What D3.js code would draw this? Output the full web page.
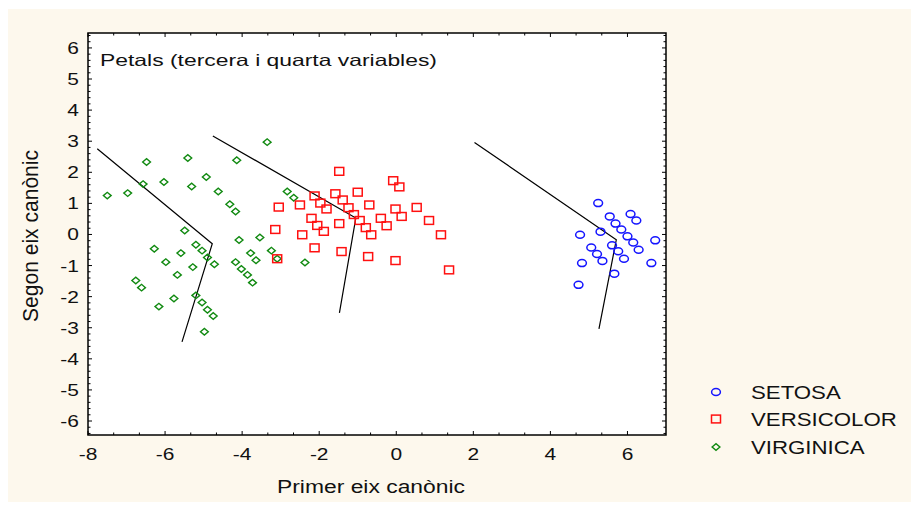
<!DOCTYPE html>
<html><head><meta charset="utf-8">
<script src="https://cdn.jsdelivr.net/npm/d3@7"></script>
<style>body{margin:0;background:#fff}</style>
</head><body>
<svg id="c" width="911" height="505"></svg>
<script>
// ---- data ----
const seriesNames = ["SETOSA", "VERSICOLOR", "VIRGINICA"];
const setosaX = [5.24,5.54,6.08,6.23,5.69,5.84,4.77,5.30,6.00,6.15,6.72,5.60,5.06,5.76,6.29,5.21,5.91,5.35,4.82,6.62,5.66,4.73];
const setosaY = [1.01,0.58,0.66,0.45,0.35,0.16,-0.01,0.09,-0.06,-0.26,-0.19,-0.35,-0.42,-0.54,-0.49,-0.63,-0.78,-0.85,-0.92,-0.92,-1.26,-1.62];
const versicolorX = [-1.48,-0.08,0.08,-2.12,-1.58,-1.00,-1.97,-1.39,-0.70,-3.05,-2.50,-1.81,-1.24,-0.02,0.53,0.14,-1.10,-2.20,-0.95,-0.40,0.85,-3.14,-2.05,-1.48,-0.79,-0.25,-1.88,-2.44,-0.65,1.16,-2.12,-1.42,-0.73,-0.02,-3.09,1.37];
const versicolorY = [2.03,1.73,1.53,1.24,1.31,1.36,1.01,1.11,0.95,0.88,0.95,0.82,0.86,0.82,0.87,0.58,0.64,0.52,0.45,0.52,0.45,0.16,0.29,0.35,0.22,0.28,0.10,-0.01,-0.01,-0.01,-0.43,-0.55,-0.71,-0.84,-0.78,-1.14];
const virginicaX = [-3.35,-6.48,-5.41,-4.14,-4.93,-6.57,-6.03,-5.31,-4.62,-7.50,-6.97,-4.32,-4.17,-5.49,-4.08,-3.54,-6.28,-5.20,-5.04,-5.59,-3.78,-3.24,-4.90,-4.72,-5.98,-4.17,-3.64,-5.28,-4.02,-3.86,-5.68,-3.73,-6.76,-6.61,-5.20,-5.77,-5.04,-6.16,-4.90,-4.75,-4.98,-3.09,-2.83,-2.66,-2.37];
const virginicaY = [2.97,2.33,2.46,2.39,1.85,1.62,1.69,1.54,1.38,1.25,1.33,0.97,0.74,0.13,-0.18,-0.10,-0.46,-0.33,-0.52,-0.60,-0.60,-0.52,-0.74,-0.96,-0.89,-0.89,-0.83,-1.05,-1.11,-1.30,-1.30,-1.55,-1.48,-1.71,-1.96,-2.06,-2.19,-2.32,-2.42,-2.62,-3.13,-0.78,1.38,1.18,-0.90];
// boundary polylines (x, y)
const line1X = [-7.76,-4.775,-5.56], line1Y = [2.755,-0.297,-3.455];
const line2X = [-4.76,-1.05,-1.475], line2Y = [3.17,0.53,-2.525];
const line3X = [2.03,5.71,5.26],     line3Y = [2.96,-0.17,-3.04];
const xTickLabels = [-8,-6,-4,-2,0,2,4,6];
const yTickLabels = [6,5,4,3,2,1,0,-1,-2,-3,-4,-5,-6];
const titleText = "Petals (tercera i quarta variables)";
const xTitle = "Primer eix canònic";
const yTitle = "Segon eix canònic";

// ---- layout ----
const svg = d3.select("#c");
const L = 88, R = 666, T = 33, B = 435;
const x = d3.scaleLinear().domain([-8, 7]).range([L, R]);
const y = d3.scaleLinear().domain([-6.45, 6.48]).range([B, T]);
const FONT = "'Liberation Sans', Arial, sans-serif";
const SX = 1.27;
const colors = {SETOSA: "#1515ff", VERSICOLOR: "#ff1010", VIRGINICA: "#118a11"};

svg.append("rect").attr("x", 8).attr("y", 9).attr("width", 903).attr("height", 493).attr("fill", "#fdf8ed");
svg.append("rect").attr("x", L).attr("y", T).attr("width", R - L).attr("height", B - T).attr("fill", "#fff");

// ticks
const tickG = svg.append("g").attr("stroke", "#000").attr("stroke-width", 1);
const xMinor = d3.range(0, 22).map(i => -8 + i * 2 / 3).filter(v => v < 6.99);
xMinor.forEach((v, i) => {
  const len = (i % 3 === 0) ? 4 : 2.5;
  tickG.append("line").attr("x1", x(v)).attr("x2", x(v)).attr("y1", B).attr("y2", B - len);
  tickG.append("line").attr("x1", x(v)).attr("x2", x(v)).attr("y1", T).attr("y2", T + len);
});
const yMinor = d3.range(-32, 33).map(i => i * 0.2).filter(v => v >= -6.45 && v <= 6.48);
yMinor.forEach(v => {
  const isMaj = Math.abs(v - Math.round(v)) < 1e-6;
  const len = isMaj ? 4 : 2.5;
  tickG.append("line").attr("x1", L).attr("x2", L + len).attr("y1", y(v)).attr("y2", y(v));
  tickG.append("line").attr("x1", R).attr("x2", R - len).attr("y1", y(v)).attr("y2", y(v));
});

// frame
svg.append("rect").attr("x", L).attr("y", T).attr("width", R - L).attr("height", B - T)
  .attr("fill", "none").attr("stroke", "#000").attr("stroke-width", 1.5);

function stext(px, py, txt, size, anchor, sx) {
  return svg.append("text").attr("transform", `translate(${px},${py}) scale(${sx},1)`)
    .attr("font-family", FONT).attr("font-size", size).attr("text-anchor", anchor)
    .attr("fill", "#111").text(txt);
}
xTickLabels.forEach(v => stext(x(v), 460, String(v), 16.5, "middle", SX));
yTickLabels.forEach(v => stext(79, y(v) + 6, String(v), 16.5, "end", SX));

svg.append("text").attr("x", 100).attr("y", 66).attr("font-family", FONT).attr("font-size", 16.5)
  .attr("fill", "#111").attr("textLength", 337).attr("lengthAdjust", "spacingAndGlyphs").text(titleText);
svg.append("text").attr("x", 277).attr("y", 493).attr("font-family", FONT).attr("font-size", 17.5)
  .attr("fill", "#111").attr("textLength", 188).attr("lengthAdjust", "spacingAndGlyphs").text(xTitle);
svg.append("text").attr("transform", `translate(38,236) scale(${SX},1) rotate(-90)`)
  .attr("font-family", FONT).attr("font-size", 17.5).attr("text-anchor", "middle")
  .attr("fill", "#111").attr("textLength", 172).attr("lengthAdjust", "spacingAndGlyphs").text(yTitle);

// boundary lines
const lineGen = d3.line().x(d => x(d[0])).y(d => y(d[1]));
[[line1X, line1Y], [line2X, line2Y], [line3X, line3Y]].forEach(([xs, ys]) => {
  svg.append("path").attr("d", lineGen(d3.zip(xs, ys))).attr("fill", "none")
    .attr("stroke", "#000").attr("stroke-width", 1.2);
});

// markers
function marker(g, kind, cx, cy, col) {
  if (kind === "SETOSA") {
    g.append("ellipse").attr("cx", cx).attr("cy", cy).attr("rx", 4.4).attr("ry", 3.5)
      .attr("fill", "none").attr("stroke", col).attr("stroke-width", 1.5);
  } else if (kind === "VERSICOLOR") {
    g.append("rect").attr("x", cx - 4.5).attr("y", cy - 3.9).attr("width", 9).attr("height", 7.8)
      .attr("fill", "none").attr("stroke", col).attr("stroke-width", 1.5);
  } else {
    g.append("path").attr("d", `M${cx - 3.9},${cy}L${cx},${cy - 3.3}L${cx + 3.9},${cy}L${cx},${cy + 3.3}Z`)
      .attr("fill", "none").attr("stroke", col).attr("stroke-width", 1.4);
  }
}
const ptG = svg.append("g");
[["VIRGINICA", virginicaX, virginicaY], ["VERSICOLOR", versicolorX, versicolorY], ["SETOSA", setosaX, setosaY]]
  .forEach(([name, xs, ys]) => xs.forEach((v, i) => marker(ptG, name, x(v), y(ys[i]), colors[name])));

// legend
const legY = [392, 419, 447];
seriesNames.forEach((n, i) => {
  marker(svg, n, 716, legY[i], colors[n]);
  stext(751, legY[i] + 6.5, n, 17.5, "start", SX);
});
</script>
</body></html>
